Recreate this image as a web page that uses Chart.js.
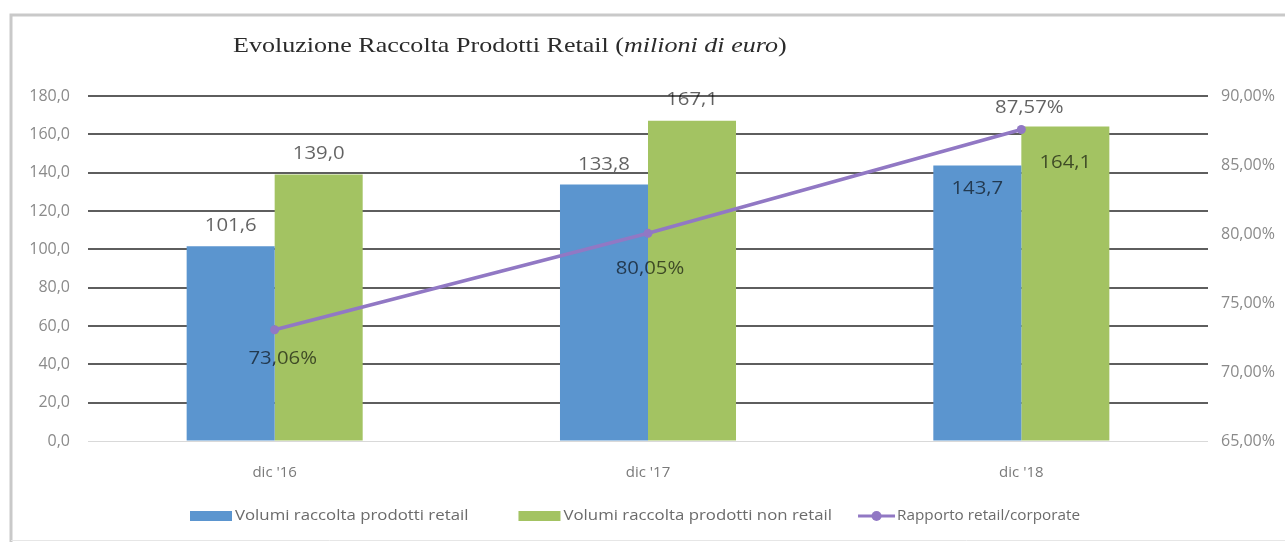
<!DOCTYPE html>
<html lang="it">
<head>
<meta charset="utf-8">
<title>Evoluzione Raccolta Prodotti Retail</title>
<script src="https://cdn.jsdelivr.net/npm/chart.js@4.4.0/dist/chart.umd.min.js"></script>
<style>
  html, body { margin: 0; padding: 0; background: #fff; }
  #wrap { width: 1285px; height: 542px; }
</style>
</head>
<body>
<div id="wrap"><canvas id="chartRaccolta" width="1285" height="542"></canvas></div>
<script>
// Dati
const categorie = ["dic '16", "dic '17", "dic '18"];
const volumiRetail = [101.6, 133.8, 143.7];
const volumiNonRetail = [139.0, 167.1, 164.1];
const rapportoRetail = [73.06, 80.05, 87.57];
const tickVolumi = [0, 20, 40, 60, 80, 100, 120, 140, 160, 180];
const tickRapporto = [65, 70, 75, 80, 85, 90];

const nomiSerie = [
  "Volumi raccolta prodotti retail",
  "Volumi raccolta prodotti non retail",
  "Rapporto retail/corporate"
];

const BLU = "#5b95cf";
const VERDE = "#a3c362";
const VIOLA = "#9178c4";
const TESTO_ETICHETTE = "rgba(0,0,0,0.62)";
const FONT = '"Open Sans", "DejaVu Sans", sans-serif';

// spostamento verticale delle etichette rispetto alla cima della barra
const dyRetail = [-21, -20, 23];
const dyNonRetail = [-21, -21, 36];
// spostamento [x, y] delle etichette percentuali rispetto al punto
const offRapporto = [[8, 29], [2, 35], [8, -22]];

const fmtVol = v => v.toFixed(1).replace(".", ",");
const fmtPerc = v => v.toFixed(2).replace(".", ",") + "%";

// testo allargato in orizzontale (fattore sx), ancorato a sinistra o al centro
function testoLargo(c, t, x, y, sx) {
  const w = c.measureText(t).width * sx;
  const x0 = c.textAlign === "center" ? x - w / 2 : x;
  c.save();
  c.textAlign = "left";
  c.translate(x0, y);
  c.scale(sx, 1);
  c.fillText(t, 0, 0);
  c.restore();
  return w;
}

// cornice, titolo, legenda ed etichette dati
const decorazioni = {
  id: "decorazioni",
  beforeDraw(chart) {
    const c = chart.ctx;
    c.save();
    c.fillStyle = "#fff";
    c.fillRect(0, 0, chart.width, chart.height);
    c.strokeStyle = "#c9c9c9";
    c.lineWidth = 3;
    c.beginPath();
    c.moveTo(11, 542);
    c.lineTo(11, 15);
    c.lineTo(1285, 15);
    c.stroke();
    c.strokeStyle = "#e6e6e6";
    c.lineWidth = 1;
    c.beginPath();
    c.moveTo(11, 540.5);
    c.lineTo(1285, 540.5);
    c.stroke();
    c.restore();
  },
  afterDraw(chart) {
    const c = chart.ctx;
    c.save();
    // titolo
    c.textBaseline = "alphabetic";
    c.textAlign = "left";
    c.fillStyle = "#2b2b2b";
    let x = 233;
    const parti = [
      ["Evoluzione Raccolta Prodotti Retail (", "normal"],
      ["milioni di euro", "italic"],
      [")", "normal"]
    ];
    parti.forEach(([t, st]) => {
      c.font = st + ' 22px "Liberation Serif", "Times New Roman", serif';
      x += testoLargo(c, t, x, 52, 1.185);
    });

    // legenda
    c.font = "15px " + FONT;
    c.textBaseline = "middle";
    const yL = 516;
    let lx = 190;
    nomiSerie.forEach((nome, i) => {
      let tx;
      if (i < 2) {
        c.fillStyle = i === 0 ? BLU : VERDE;
        c.fillRect(lx, yL - 5, 42, 10);
        tx = lx + 45;
      } else {
        lx -= 24;
        c.strokeStyle = VIOLA;
        c.lineWidth = 3;
        c.beginPath();
        c.moveTo(lx, yL);
        c.lineTo(lx + 37, yL);
        c.stroke();
        c.fillStyle = VIOLA;
        c.beginPath();
        c.arc(lx + 18.5, yL, 5, 0, Math.PI * 2);
        c.fill();
        tx = lx + 39;
      }
      c.fillStyle = "#6b6b6b";
      const w = testoLargo(c, nome, tx, yL, i < 2 ? 1.12 : 1.02);
      lx = tx + w + 50;
    });

    // etichette dati
    c.font = "19px " + FONT;
    c.textAlign = "center";
    c.fillStyle = TESTO_ETICHETTE;
    const barre = [[0, volumiRetail, dyRetail], [1, volumiNonRetail, dyNonRetail]];
    barre.forEach(([ds, valori, dy]) => {
      chart.getDatasetMeta(ds).data.forEach((el, i) => {
        testoLargo(c, fmtVol(valori[i]), el.x, el.y + dy[i], 1.07);
      });
    });
    chart.getDatasetMeta(2).data.forEach((el, i) => {
      testoLargo(c, fmtPerc(rapportoRetail[i]), el.x + offRapporto[i][0], el.y + offRapporto[i][1], 1.07);
    });
    c.restore();
  }
};

const ctx = document.getElementById("chartRaccolta");
new Chart(ctx, {
  data: {
    labels: categorie,
    datasets: [
      {
        type: "bar",
        label: nomiSerie[0],
        data: volumiRetail,
        backgroundColor: BLU,
        yAxisID: "y",
        order: 2,
        categoryPercentage: 0.4715,
        barPercentage: 1
      },
      {
        type: "bar",
        label: nomiSerie[1],
        data: volumiNonRetail,
        backgroundColor: VERDE,
        yAxisID: "y",
        order: 2,
        categoryPercentage: 0.4715,
        barPercentage: 1
      },
      {
        type: "line",
        label: nomiSerie[2],
        data: rapportoRetail,
        borderColor: VIOLA,
        backgroundColor: VIOLA,
        borderWidth: 3.5,
        pointRadius: 4.5,
        pointBackgroundColor: VIOLA,
        pointBorderWidth: 0,
        yAxisID: "y1",
        order: 0,
        tension: 0
      }
    ]
  },
  options: {
    responsive: false,
    animation: false,
    layout: { padding: { left: 0, right: 0, top: 96, bottom: 0 } },
    plugins: {
      legend: { display: false },
      title: { display: false },
      tooltip: { enabled: false }
    },
    scales: {
      x: {
        grid: { display: false },
        border: { display: false },
        ticks: { color: "#7a7a7a", font: { family: FONT, size: 15 }, padding: 15 },
        afterFit: s => { s.height = 101; }
      },
      y: {
        position: "left",
        min: 0,
        max: 180,
        afterBuildTicks: s => { s.ticks = tickVolumi.map(v => ({ value: v })); },
        grid: {
          drawTicks: false,
          color: c => c.tick && c.tick.value === 0 ? "#d9d9d9" : "#5e5e5e",
          lineWidth: c => c.tick && c.tick.value === 0 ? 1 : 2
        },
        border: { display: false },
        ticks: {
          color: "#8a8a8a",
          font: { family: FONT, size: 16 },
          padding: 18,
          callback: v => fmtVol(v)
        },
        afterFit: s => { s.width = 88; }
      },
      y1: {
        position: "right",
        min: 65,
        max: 90,
        afterBuildTicks: s => { s.ticks = tickRapporto.map(v => ({ value: v })); },
        grid: { display: false, drawTicks: false },
        border: { display: false },
        ticks: {
          color: "#8a8a8a",
          font: { family: FONT, size: 16 },
          padding: 13,
          callback: v => fmtPerc(v)
        },
        afterFit: s => { s.width = 77; }
      }
    }
  },
  plugins: [decorazioni]
});
</script>
</body>
</html>
